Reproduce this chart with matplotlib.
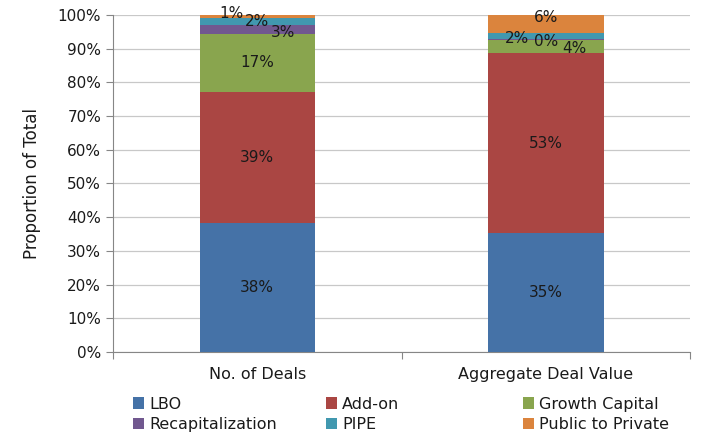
import numpy as np
import matplotlib
matplotlib.use('Agg')
import matplotlib.pyplot as plt
from matplotlib.ticker import PercentFormatter

categories = ['No. of Deals', 'Aggregate Deal Value']
series = ['LBO', 'Add-on', 'Growth Capital', 'Recapitalization', 'PIPE', 'Public to Private']
deals = [38.3, 38.9, 17.2, 2.7, 2.0, 0.9]
value = [35.3, 53.4, 3.9, 0.2, 1.8, 5.4]
deal_labels = ['38%', '39%', '17%', '3%', '2%', '1%']
value_labels = ['35%', '53%', '4%', '0%', '2%', '6%']
colors = ['#4572A7', '#AA4643', '#89A54E', '#71588F', '#4198AF', '#DB843D']

plt.rcParams['font.family'] = ['DejaVu Sans']
text_color = '#1a1a1a'

fig = plt.figure(figsize=(7.02, 4.37), dpi=100)
ax = fig.add_axes([0.161, 0.1945, 0.822, 0.7712])

x = np.arange(len(categories))
data = np.array([deals, value])
bottoms = np.zeros(len(categories))
handles = []
for i, name in enumerate(series):
    b = ax.bar(x, data[:, i], 0.4, bottom=bottoms, color=colors[i], label=name, zorder=3)
    handles.append(b)
    bottoms += data[:, i]

# data labels (small segments were nudged sideways in the original)
label_sets = [deal_labels, value_labels]
offsets = [
    [(0, 0), (0, 0), (0, 0), (0.09, -0.8), (0.0, 0.0), (-0.09, 1.0)],
    [(0, 0), (0, 0), (0.1, -0.6), (0.0, -0.7), (-0.1, -0.7), (0, 2.0)],
]
for j in range(len(categories)):
    cum = 0
    for i in range(len(series)):
        h = data[j, i]
        dx, dy = offsets[j][i]
        ax.text(x[j] + dx, cum + h / 2 + dy, label_sets[j][i], ha='center', va='center',
                fontsize=11, color=text_color, zorder=5)
        cum += h

ax.set_xlim(-0.5, 1.5)
ax.set_ylim(0, 100)
ax.set_yticks(np.arange(0, 101, 10))
ax.yaxis.set_major_formatter(PercentFormatter(decimals=0))
ax.set_xticks([-0.5, 0.5, 1.5])
ax.set_xticklabels([])
ax.set_xticks(x, minor=True)
ax.set_xticklabels(categories, minor=True)
ax.tick_params(axis='x', which='minor', length=0, pad=11, labelsize=11.5, labelcolor=text_color)
ax.tick_params(axis='x', which='major', length=5, color='#868686')
ax.tick_params(axis='y', length=5, color='#868686', labelsize=11, labelcolor=text_color)
ax.grid(axis='y', color='#C8C8C8', linewidth=0.9, zorder=0)
for s in ['top', 'right']:
    ax.spines[s].set_visible(False)
for s in ['left', 'bottom']:
    ax.spines[s].set_color('#868686')
ax.set_ylabel('Proportion of Total', fontsize=12, color=text_color, labelpad=12)

# legend: three columns of two entries, placed like the original
col_x = [0.183, 0.458, 0.738]
for c in range(3):
    idx = [c, c + 3]
    leg = fig.legend([handles[k] for k in idx], [series[k] for k in idx],
                     loc='lower left', bbox_to_anchor=(col_x[c], 0.0), frameon=False,
                     fontsize=11.5, handlelength=0.7, handleheight=0.7, handletextpad=0.3,
                     labelspacing=0.35, borderaxespad=0, borderpad=0.3)
    for t in leg.get_texts():
        t.set_color(text_color)

fig.savefig('out.png', dpi=100)
